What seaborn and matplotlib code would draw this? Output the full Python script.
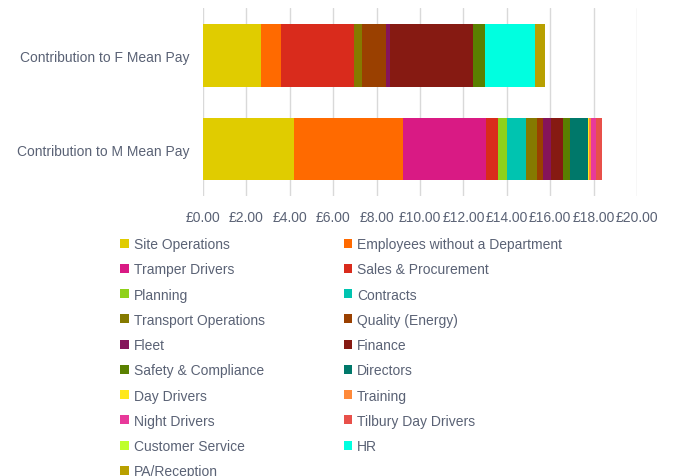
import numpy as np
import pandas as pd
import matplotlib
matplotlib.use("Agg")
import matplotlib.pyplot as plt
from matplotlib.patches import Patch
import seaborn as sns

# categories (bars) and departments (stack segments)
bars = ["Contribution to F Mean Pay", "Contribution to M Mean Pay"]
departments = ["Site Operations", "Employees without a Department", "Tramper Drivers",
               "Sales & Procurement", "Planning", "Contracts", "Transport Operations",
               "Quality (Energy)", "Fleet", "Finance", "Safety & Compliance", "Directors",
               "Day Drivers", "Training", "Night Drivers", "Tilbury Day Drivers",
               "Customer Service", "HR", "PA/Reception"]
f_pay = [2.67, 0.94, 0.00, 3.35, 0.00, 0.00, 0.37, 1.09, 0.20, 3.84, 0.54, 0.00,
         0.00, 0.00, 0.00, 0.00, 0.00, 2.32, 0.46]
m_pay = [4.18, 5.05, 3.81, 0.57, 0.39, 0.89, 0.49, 0.31, 0.34, 0.55, 0.31, 0.83,
         0.09, 0.05, 0.23, 0.29, 0.02, 0.00, 0.00]
colours = ["#E0CC00", "#FF6A00", "#D91A84", "#D92B1C", "#8FD11A", "#00C4B0", "#857A00",
           "#9A4000", "#85145A", "#861A12", "#5A8000", "#00786A", "#FFE81A", "#FF8A3A",
           "#E8399A", "#E8504A", "#BFFF2A", "#00FFE0", "#B8A000"]
ticks = [0, 2, 4, 6, 8, 10, 12, 14, 16, 18, 20]

txt = "#5A6275"
sns.set_style("white")
plt.rcParams["font.family"] = ["Liberation Sans", "DejaVu Sans"]

df = pd.DataFrame({"F": f_pay, "M": m_pay}, index=departments)
cum = df.cumsum()

fig = plt.figure(figsize=(6.76, 4.77), dpi=100)
ax = fig.add_axes([0.3003, 0.587, 0.642, 0.394])

# stacked bars: draw cumulative totals from the last segment back to the first
for dept, col in reversed(list(zip(departments, colours))):
    sns.barplot(x=[cum.loc[dept, "F"], cum.loc[dept, "M"]], y=bars, color=col,
                orient="h", width=0.67, saturation=1, linewidth=0, ax=ax, zorder=3)

ax.set_xlim(0, 20)
ax.set_ylim(1.5, -0.5)
ax.set_xticks(ticks)
ax.set_xticklabels([f"£{t:.2f}" for t in ticks])
ax.xaxis.grid(True, color="#D9D9D9", lw=1, zorder=0)
ax.set_axisbelow(True)
ax.tick_params(axis="both", length=0, colors=txt, labelsize=10)
ax.tick_params(axis="x", pad=10)
ax.tick_params(axis="y", pad=10)
ax.set_xlabel("")
ax.set_ylabel("")
sns.despine(ax=ax, left=True, bottom=True)

# legend laid out row-wise like the original (matplotlib fills columns first)
handles = [Patch(facecolor=c, edgecolor="none", label=d) for d, c in zip(departments, colours)]
order = list(range(0, 19, 2)) + list(range(1, 19, 2))
leg = fig.legend([handles[i] for i in order], [departments[i] for i in order],
                 ncol=2, loc="upper left", bbox_to_anchor=(0.178, 0.501),
                 frameon=False, fontsize=10, handlelength=0.6, handleheight=0.6,
                 handletextpad=0.35, labelspacing=0.81, columnspacing=5.7,
                 borderpad=0, borderaxespad=0)
for t in leg.get_texts():
    t.set_color(txt)

fig.savefig("out.png", dpi=100)
